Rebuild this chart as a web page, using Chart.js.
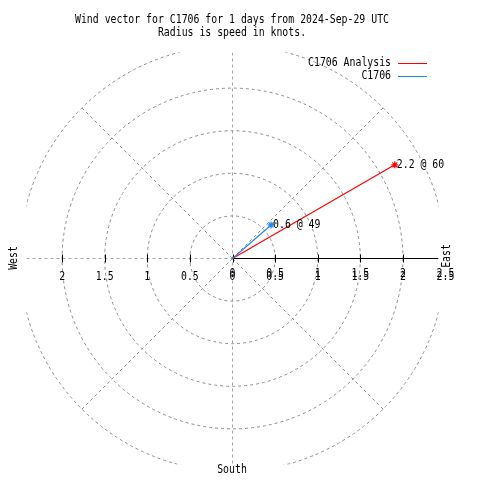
<!DOCTYPE html>
<html>
<head>
<meta charset="utf-8">
<script src="https://cdn.jsdelivr.net/npm/chart.js@4"></script>
<style>html,body{margin:0;padding:0;background:#fff}</style>
</head>
<body>
<canvas id="chart" width="480" height="480"></canvas>
<script>
const seriesNames = ['C1706 Analysis', 'C1706'];
const seriesColors = ['#ff0000', '#1e88f0'];
const speeds = [2.2, 0.6];        // knots
const directions = [60, 49];      // degrees
const ringValues = [0.5, 1, 1.5, 2, 2.5];
const tickValues = [-2, -1.5, -1, -0.5, 0, 0.5, 1, 1.5, 2, 2.5];
const tickLabels = ['2', '1.5', '1', '0.5', '0', '0.5', '1', '1.5', '2', '2.5'];
const titleLines = ['Wind vector for C1706 for 1 days from 2024-Sep-29 UTC', 'Radius is speed in knots.'];
const rMax = 2.418;

const FONT = '12px "DejaVu Sans Mono"';
const GRID = '#8c8c8c';

function txt(ctx, s, x, y, align, rot) {
	ctx.save();
	ctx.translate(x, y);
	if (rot) ctx.rotate(rot);
	ctx.scale(0.82, 1);
	ctx.font = FONT;
	ctx.fillStyle = '#000';
	ctx.textAlign = align;
	ctx.textBaseline = 'middle';
	ctx.fillText(s, 0, 0);
	ctx.restore();
}

const datasets = speeds.map((s, i) => {
	const a = directions[i] * Math.PI / 180;
	return {
		label: seriesNames[i],
		data: [{ x: 0, y: 0 }, { x: s * Math.sin(a), y: s * Math.cos(a) }],
		showLine: true,
		borderColor: seriesColors[i],
		backgroundColor: seriesColors[i],
		borderWidth: 1.2,
		pointStyle: 'star',
		pointRadius: [0, 3.5],
		pointBorderWidth: 1.2,
		pointBorderColor: seriesColors[i],
	};
}).reverse();

// polar grid drawn under the vectors
const polarGrid = {
	id: 'polarGrid',
	beforeDatasetsDraw(chart) {
		const { ctx, chartArea: ca, scales: { x, y } } = chart;
		const cx = x.getPixelForValue(0), cy = y.getPixelForValue(0);
		const k = x.getPixelForValue(1) - cx;
		ctx.save();
		ctx.beginPath();
		ctx.rect(ca.left, ca.top, ca.right - ca.left, ca.bottom - ca.top);
		ctx.clip();
		ctx.strokeStyle = GRID;
		ctx.lineWidth = 1;
		ctx.setLineDash([3, 3]);
		ringValues.forEach(r => {
			ctx.beginPath();
			ctx.arc(cx, cy, r * k, 0, Math.PI * 2);
			ctx.stroke();
		});
		const R = ringValues[ringValues.length - 1] * k;
		[45, 135, 225, 315].forEach(d => {
			const a = d * Math.PI / 180;
			ctx.beginPath();
			ctx.moveTo(cx, cy);
			ctx.lineTo(cx + R * Math.sin(a), cy - R * Math.cos(a));
			ctx.stroke();
		});
		ctx.strokeStyle = '#a0a0a0';
		ctx.beginPath();
		ctx.moveTo(cx, ca.top);
		ctx.lineTo(cx, ca.bottom);
		ctx.moveTo(ca.left, cy);
		ctx.lineTo(cx, cy);
		ctx.stroke();
		ctx.setLineDash([]);
		ctx.strokeStyle = '#000';
		ctx.beginPath();
		ctx.moveTo(cx, cy);
		ctx.lineTo(ca.right, cy);
		tickValues.forEach(v => {
			const px = Math.round(x.getPixelForValue(v)) + 0.5;
			ctx.moveTo(px, cy - 4);
			ctx.lineTo(px, cy + 4);
		});
		ctx.stroke();
		ctx.restore();
	},
	afterDraw(chart) {
		const { ctx, scales: { x, y } } = chart;
		const cx = x.getPixelForValue(0), cy = y.getPixelForValue(0);
		titleLines.forEach((t, i) => txt(ctx, t, 232, 20 + i * 13, 'center'));
		tickValues.forEach((v, i) => {
			const px = x.getPixelForValue(v);
			if (v < 0) {
				txt(ctx, tickLabels[i], px, cy + 18, 'center');
			} else {
				txt(ctx, tickLabels[i], px, cy + 15, 'center');
				txt(ctx, tickLabels[i], px, cy + 18, 'center');
			}
		});
		txt(ctx, 'West', 14, 258, 'center', -Math.PI / 2);
		txt(ctx, 'East', 447, 256, 'center', -Math.PI / 2);
		txt(ctx, 'South', 232, 470, 'center');
		// legend
		seriesNames.forEach((n, i) => {
			const ly = 63 + i * 13;
			txt(ctx, n, 391, ly, 'right');
			ctx.save();
			ctx.strokeStyle = seriesColors[i];
			ctx.lineWidth = 1;
			ctx.beginPath();
			ctx.moveTo(398, ly + 0.5);
			ctx.lineTo(427, ly + 0.5);
			ctx.stroke();
			ctx.restore();
		});
		// vector labels
		speeds.forEach((s, i) => {
			const a = directions[i] * Math.PI / 180;
			const px = x.getPixelForValue(s * Math.sin(a));
			const py = y.getPixelForValue(s * Math.cos(a));
			txt(ctx, s + ' @ ' + directions[i], px + 2, py, 'left');
		});
	}
};

new Chart(document.getElementById('chart'), {
	type: 'scatter',
	data: { datasets },
	options: {
		responsive: false,
		animation: false,
		layout: { padding: { left: 26.5, right: 41.5, top: 52.5, bottom: 15.5 } },
		scales: {
			x: { type: 'linear', min: -rMax, max: rMax, display: false },
			y: { type: 'linear', min: -rMax, max: rMax, display: false },
		},
		plugins: { legend: { display: false }, tooltip: { enabled: false } },
	},
	plugins: [polarGrid],
});
</script>
</body>
</html>
